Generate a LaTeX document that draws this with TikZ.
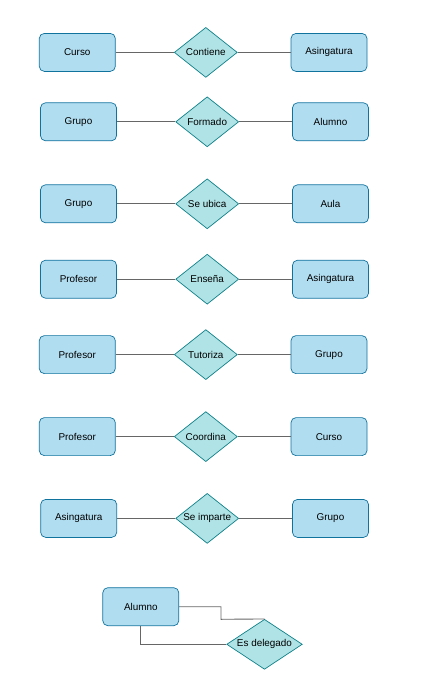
\documentclass[tikz,border=0pt]{standalone}
\usepackage{fontspec}
\setmainfont{Liberation Sans}
\usetikzlibrary{shapes.geometric}
\definecolor{entfill}{HTML}{B1DDF0}
\definecolor{entdraw}{HTML}{10739E}
\definecolor{relfill}{HTML}{B0E3E6}
\definecolor{reldraw}{HTML}{0E8088}
\definecolor{edgecol}{HTML}{666666}
\newcommand{\zw}[1]{\makebox[0pt]{#1}}
\tikzset{
  entity/.style={draw=entdraw, fill=entfill, rounded corners=5pt, minimum width=76pt, minimum height=38pt, inner sep=0pt, line width=0.7pt, font=\fontsize{9.9}{12}\selectfont},
  relation/.style={diamond, draw=reldraw, fill=relfill, minimum width=63pt, minimum height=50pt, inner sep=0pt, line width=0.7pt, font=\fontsize{9.9}{12}\selectfont},
  link/.style={draw=edgecol, line width=0.9pt}
}
\begin{document}
\begin{tikzpicture}[x=1pt,y=-1pt]
\useasboundingbox (0,0) rectangle (435,681);
% row 1
\node[entity] (e1a) at (77.3,52.4) {Curso};
\node[relation] (r1) at (205.8,52.4) {\zw{Contiene}};
\node[entity] (e1b) at (329,52.4) {Asingatura};
% row 2
\node[entity] (e2a) at (78.5,121.8) {Grupo};
\node[relation] (r2) at (207.2,121.8) {\zw{Formado}};
\node[entity] (e2b) at (330.5,121.8) {Alumno};
% row 3
\node[entity] (e3a) at (78.5,203.8) {Grupo};
\node[relation] (r3) at (207.2,203.8) {\zw{Se ubica}};
\node[entity] (e3b) at (330.5,203.8) {Aula};
% row 4
\node[entity] (e4a) at (78.5,279.2) {Profesor};
\node[relation] (r4) at (207.2,279.2) {\zw{Enseña}};
\node[entity] (e4b) at (330.5,279.2) {Asingatura};
% row 5
\node[entity] (e5a) at (77.3,354.6) {Profesor};
\node[relation] (r5) at (205.8,354.6) {\zw{Tutoriza}};
\node[entity] (e5b) at (329,354.6) {Grupo};
% row 6
\node[entity] (e6a) at (77.3,436.6) {Profesor};
\node[relation] (r6) at (205.8,436.6) {\zw{Coordina}};
\node[entity] (e6b) at (329,436.6) {Curso};
% row 7
\node[entity] (e7a) at (78.7,518.4) {Asingatura};
\node[relation] (r7) at (207.2,518.4) {\zw{Se imparte}};
\node[entity] (e7b) at (330.5,518.4) {Grupo};
% row 8
\node[entity] (e8) at (140.8,606.7) {Alumno};
\node[relation, minimum width=75.6pt] (r8) at (264.5,644.3) {\zw{Es delegado}};
\coordinate (k8) at (221,619.3);
% links
\foreach \i in {1,...,7}{
  \draw[link] (e\i a.east) -- (r\i.west);
  \draw[link] (r\i.east) -- (e\i b.west);
}
\draw[link] (e8.east) -| (k8) -- (r8.north);
\draw[link] (e8.south) |- (r8.west);
\end{tikzpicture}
\end{document}
